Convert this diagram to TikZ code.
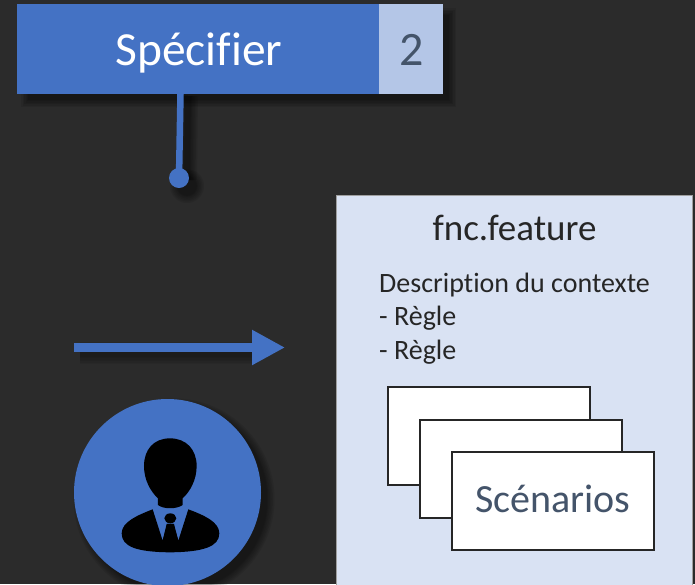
\documentclass[tikz,border=0pt]{standalone}
\usepackage{fontspec}
\setmainfont[Ligatures=NoCommon]{Carlito}
\usetikzlibrary{arrows.meta,calc}
\definecolor{bg}{HTML}{2B2B2B}
\definecolor{mainblue}{HTML}{4472C4}
\definecolor{lightblue}{HTML}{B4C6E7}
\definecolor{panelblue}{HTML}{D9E2F3}
\definecolor{slate}{HTML}{44546A}
\definecolor{ink}{HTML}{262626}
\tikzset{
  boxnode/.style={rectangle,inner sep=0pt,outer sep=0pt,anchor=north west},
  headbox/.style={boxnode,fill=mainblue,minimum width=362pt,minimum height=90pt},
  numbox/.style={boxnode,fill=lightblue,minimum width=64pt,minimum height=90pt},
  panel/.style={boxnode,fill=panelblue,draw=gray!75,line width=1pt,minimum width=356pt,minimum height=420pt},
  card/.style={boxnode,fill=white,draw=ink,line width=2pt,minimum width=202pt,minimum height=98pt},
  paneltext/.style={inner sep=0pt,text=ink,anchor=base west,font=\fontsize{28}{28}\selectfont},
}
\begin{document}
\begin{tikzpicture}[x=1pt,y=-1pt]
\useasboundingbox (0,0) rectangle (695,584);
\clip (0,0) rectangle (695,584);
\fill[bg] (0,0) rectangle (695,584);
% soft shadows
\foreach \w in {7,5.5,4,2.5,1,0}{
  \fill[black,opacity=0.09] (23-\w+5,10-\w+5) rectangle (449+\w,100+\w);
  \draw[black,opacity=0.08,line width=6pt+2*\w] (188,96) -- (187,180);
  \fill[black,opacity=0.08] (187,186) circle (10+\w);
  \fill[black,opacity=0.08] (174,499) circle (93.5+\w);
  \draw[black,opacity=0.06,line width=8pt+2*\w] (80,353) -- (258,353);
}
% header
\node[headbox] (head) at (17,4) {};
\node[numbox] (num) at (379,4) {};
\node[text=white,font=\fontsize{47.5}{47.5}\selectfont,inner sep=0pt,anchor=base] (headt) at (199,65) {Spécifier};
\node[text=slate,font=\fontsize{48}{48}\selectfont,inner sep=0pt,anchor=base] (numt) at (411.5,65) {2};
% stem with dot
\node[circle,fill=mainblue,minimum size=20pt,inner sep=0pt] (dot) at (179,178) {};
\coordinate (stemtop) at (180.5,94);
\draw[mainblue,line width=6.5pt] (stemtop) -- (dot.center);
% arrow
\coordinate (arrowa) at (74,347.5);
\coordinate (arrowb) at (285,347.5);
\draw[mainblue,line width=9pt,-{Triangle[length=33pt,width=33pt]}] (arrowa) -- (arrowb);
% person
\node[circle,fill=mainblue,minimum size=187pt,inner sep=0pt] (user) at (167.5,492.5) {};
\begin{scope}[shift={(60,390)},x=0.3333pt,y=-0.3333pt]
  \fill[black] (330,145) .. controls (280,145) and (252,180) .. (252,228)
    .. controls (252,270) and (272,305) .. (294,325) -- (294,345)
    .. controls (310,358) and (350,358) .. (368,345) -- (368,325)
    .. controls (390,305) and (410,270) .. (410,228)
    .. controls (410,180) and (380,145) .. (330,145) -- cycle;
  \fill[black] (278,358) -- (308,452) -- (320,402) -- (342,402) -- (355,452) -- (385,358)
    .. controls (430,375) and (478,395) .. (478,430)
    .. controls (478,470) and (430,486) .. (330,487)
    .. controls (230,486) and (185,470) .. (185,430)
    .. controls (185,395) and (235,375) .. (278,358) -- cycle;
  \fill[black] (331,385) ellipse (18 and 15);
  \fill[black] (322,402) -- (340,402) -- (355,452) -- (308,452) -- cycle;
\end{scope}
% panel
\node[panel] (file) at (336.5,195) {};
\node[inner sep=0pt,text=ink,anchor=base,font=\fontsize{37}{37}\selectfont] (title) at (514.5,240.5) {fnc.feature};
\node[paneltext] (desc) at (379,292) {Description du contexte};
\node[paneltext] (r1) at (379,325.5) {- Règle};
\node[paneltext] (r2) at (379,359.5) {- Règle};
\node[card] (c1) at (388,387) {};
\node[card] (c2) at (420,419.5) {};
\node[card] (c3) at (452,451.5) {};
\node[inner sep=0pt,text=slate,anchor=base,font=\fontsize{40}{40}\selectfont] (scen) at (553,512) {Scénarios};
\end{tikzpicture}
\end{document}
